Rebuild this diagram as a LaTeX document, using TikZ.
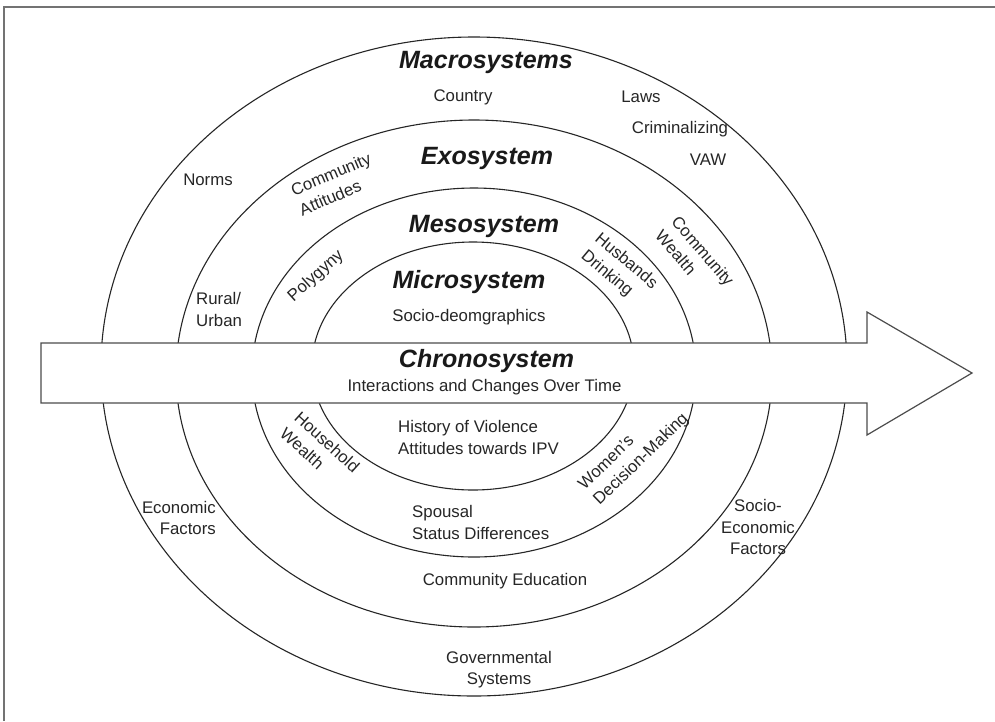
\documentclass[tikz,border=0pt]{standalone}
\usepackage{fontspec}
\setmainfont{Liberation Sans}
\begin{document}
\begin{tikzpicture}[x=1pt,y=-1pt,
  ring/.style={draw=black!85, line width=1.1pt},
  sysname/.style={font=\fontsize{25}{30}\selectfont\bfseries\itshape, inner sep=0, text=black!90},
  lbl/.style={font=\fontsize{16.8}{21.5}\selectfont, inner sep=0, text=black!85},
  arrowshape/.style={fill=white, draw=black!70, line width=1.2pt},
  framestyle/.style={draw=black!55, line width=1.5pt}
  ]
\useasboundingbox (0,0) rectangle (995,721);
\fill[white] (0,0) rectangle (995,721);
\draw[framestyle] (4,721) -- (4,7) -- (995,7);

% rings
\draw[ring] (474,366.5) ellipse [x radius=373pt, y radius=329.5pt];
\draw[ring] (474,373.5) ellipse [x radius=298pt, y radius=253.5pt];
\draw[ring] (474,372.5) ellipse [x radius=222pt, y radius=184.5pt];
\draw[ring] (473,366) ellipse [x radius=161pt, y radius=124pt];

% chronosystem arrow
\draw[arrowshape] (41,343) -- (867,343) -- (867,312) -- (972,373) -- (867,435) -- (867,403) -- (41,403) -- cycle;

% titles
\node[sysname] (macro) at (486,62.5) {Macrosystems};
\node[sysname] (exo) at (487,158.5) {Exosystem};
\node[sysname] (meso) at (484,226.5) {Mesosystem};
\node[sysname] (micro) at (469,282.5) {Microsystem};
\node[sysname] (chrono) at (486.5,361.5) {Chronosystem};
\node[lbl] (inter) at (484.5,387.5) {Interactions and Changes Over Time};

% macro labels
\node[lbl] (country) at (463,97.5) {Country};
\node[lbl] (laws) at (641,96.5) {Laws};
\node[lbl] (crim) at (680,129.5) {Criminalizing};
\node[lbl] (vaw) at (708,160) {VAW};
\node[lbl] (norms) at (208,180) {Norms};
\node[lbl, align=right, anchor=east] (econ) at (216,518) {Economic\\Factors};
\node[lbl, align=center] (socioecon) at (758,527) {Socio-\\Economic\\Factors};
\node[lbl, align=center] (gov) at (499,669.5) {Governmental\\Systems};

% exo labels
\node[lbl, align=left, rotate=23] (commatt) at (335,184) {Community\\Attitudes};
\node[lbl, align=left, anchor=west] (rural) at (196,309.5) {Rural/\\Urban};
\node[lbl, align=left, rotate=-49] (commwealth) at (695,258) {Community\\Wealth};
\node[lbl] (commedu) at (505,581.5) {Community Education};

% meso labels
\node[lbl, rotate=42] (polygyny) at (316,276) {Polygyny};
\node[lbl, align=left, rotate=-40] (husb) at (619,270) {Husbands\\Drinking};
\node[lbl, align=left, rotate=-42] (household) at (320,450) {Household\\Wealth};
\node[lbl, align=left, rotate=44] (women) at (634,452) {Women's\\Decision-Making};
\node[lbl, align=left, anchor=west] (spousal) at (412,522.5) {Spousal\\Status Differences};

% micro labels
\node[lbl] (sociodemo) at (469,317.5) {Socio-deomgraphics};
\node[lbl, align=left, anchor=west] (history) at (398,437.5) {History of Violence\\Attitudes towards IPV};
\end{tikzpicture}
\end{document}
